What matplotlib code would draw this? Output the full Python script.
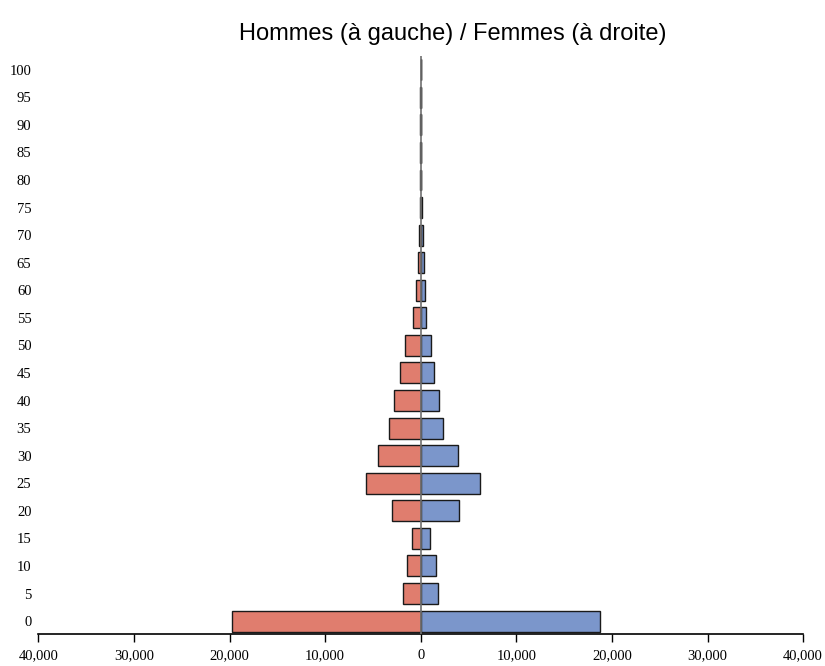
import matplotlib.pyplot as plt
import numpy as np
from matplotlib.ticker import FuncFormatter

# Data
# ----
ages = [0, 5, 10, 15, 20, 25, 30, 35, 40, 45, 50, 55, 60, 65, 70, 75, 80, 85, 90, 95, 100]
hommes = [19700, 1890, 1470, 940, 3040, 5760, 4500, 3350, 2750, 2130, 1630, 840,
          450, 240, 140, 70, 70, 60, 50, 40, 0]
femmes = [18800, 1780, 1610, 1010, 3980, 6210, 3910, 2300, 1920, 1360, 1120, 520,
          460, 350, 250, 80, 70, 60, 50, 40, 0]
xticks = [-40000, -30000, -20000, -10000, 0, 10000, 20000, 30000, 40000]

# figure settings
col_h = '#E07D6E'
col_f = '#7B96CB'
serif = 'Liberation Serif'

fig = plt.figure(figsize=(8.25, 6.66), dpi=100)
ax = fig.add_axes([0.0465, 0.048, 0.927, 0.868])

ypos = np.arange(len(ages))
ax.barh(ypos, [-v for v in hommes], height=0.76, color=col_h, edgecolor='#1a1a1a', linewidth=1, zorder=2)
ax.barh(ypos, femmes, height=0.76, color=col_f, edgecolor='#1a1a1a', linewidth=1, zorder=2)
ax.axvline(0, color='#707070', linewidth=1.2, zorder=3)

ax.set_xlim(-40000, 40000)
ax.set_ylim(-0.47, 20.5)
ax.set_xticks(xticks)
ax.xaxis.set_major_formatter(FuncFormatter(lambda v, p: '{:,}'.format(int(abs(v)))))
ax.set_yticks(ypos)
ax.set_yticklabels([str(a) for a in ages])

for s in ['top', 'right', 'left']:
	ax.spines[s].set_visible(False)
ax.spines['bottom'].set_linewidth(1.2)
ax.tick_params(axis='y', length=0, pad=5, labelsize=10.5)
ax.tick_params(axis='x', length=6, width=1, direction='out', pad=5, labelsize=10.5)
for lab in ax.get_xticklabels() + ax.get_yticklabels():
	lab.set_fontfamily(serif)

fig.text(0.549, 0.949, 'Hommes (à gauche) / Femmes (à droite)', ha='center', va='center',
		fontsize=17, fontfamily='Liberation Sans')

plt.savefig('out.png', facecolor='w')
